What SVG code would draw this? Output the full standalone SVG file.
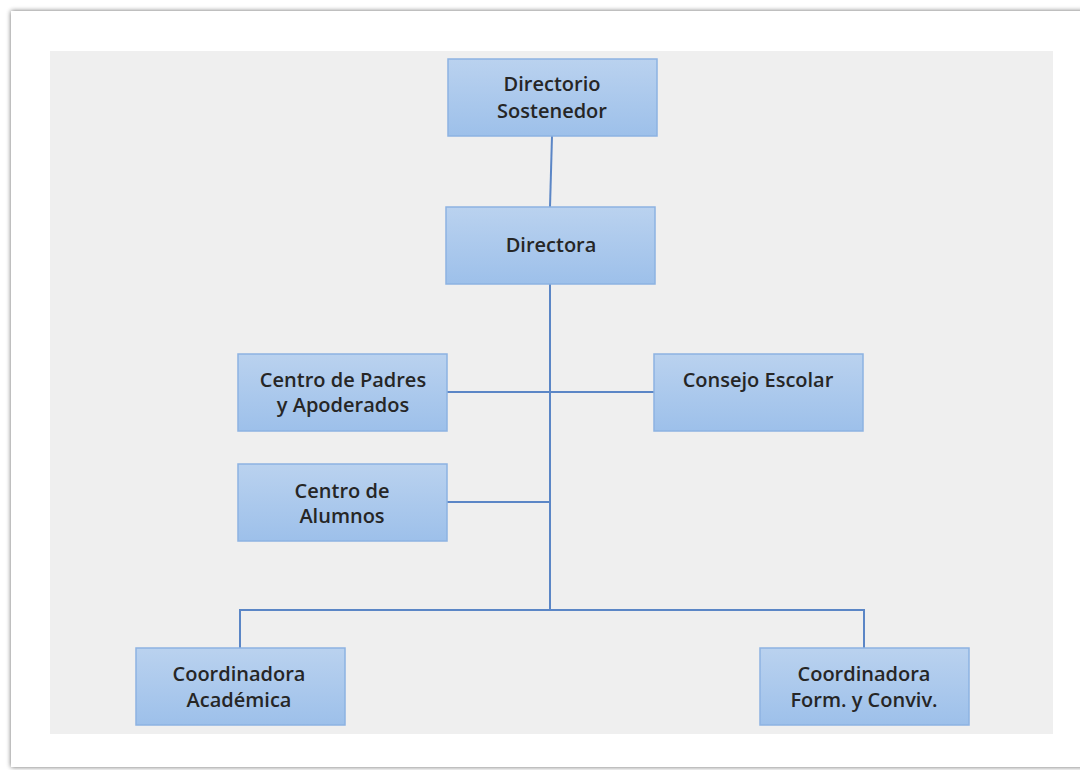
<svg xmlns="http://www.w3.org/2000/svg" width="1080" height="770" viewBox="0 0 1080 770">
<defs>
<linearGradient id="g" x1="0" y1="0" x2="0" y2="1">
<stop offset="0" stop-color="#bad2ef"/>
<stop offset="1" stop-color="#9dc0ea"/>
</linearGradient>
<filter id="sh" x="-5%" y="-5%" width="110%" height="110%">
<feGaussianBlur in="SourceAlpha" stdDeviation="2.5"/>
<feOffset dx="0" dy="0"/>
<feComponentTransfer><feFuncA type="linear" slope="0.6"/></feComponentTransfer>
<feMerge><feMergeNode/><feMergeNode in="SourceGraphic"/></feMerge>
</filter>
</defs>
<style>
.box{fill:url(#g);stroke:#8db3e2;stroke-width:1.5}
.t{font-family:"Open Sans","Liberation Sans",sans-serif;font-size:20px;font-weight:600;fill:#262626;text-anchor:middle}
.c{stroke:#5b86c6;stroke-width:2;fill:none}
</style>
<rect x="0" y="0" width="1080" height="770" fill="#ffffff"/>
<rect x="11" y="11" width="1080" height="756" fill="#ffffff" filter="url(#sh)"/>
<rect x="50" y="51" width="1003" height="683" fill="#efefef"/>
<g id="connectors">
<line class="c" x1="552" y1="136" x2="550" y2="207"/>
<line class="c" x1="550" y1="284" x2="550" y2="611"/>
<line class="c" x1="447" y1="392" x2="654" y2="392"/>
<line class="c" x1="447" y1="502" x2="550" y2="502"/>
<polyline class="c" points="240,648 240,610 864,610 864,648"/>
</g>
<g id="n1"><rect class="box" x="448" y="59" width="209" height="77"/><text class="t" x="552" y="91">Directorio</text><text class="t" x="552" y="118">Sostenedor</text></g>
<g id="n2"><rect class="box" x="446" y="207" width="209" height="77"/><text class="t" x="551" y="252">Directora</text></g>
<g id="n3"><rect class="box" x="238" y="354" width="209" height="77"/><text class="t" x="343" y="387">Centro de Padres</text><text class="t" x="343" y="412">y Apoderados</text></g>
<g id="n4"><rect class="box" x="654" y="354" width="209" height="77"/><text class="t" x="758" y="387">Consejo Escolar</text></g>
<g id="n5"><rect class="box" x="238" y="464" width="209" height="77"/><text class="t" x="342" y="498">Centro de</text><text class="t" x="342" y="523">Alumnos</text></g>
<g id="n6"><rect class="box" x="136" y="648" width="209" height="77"/><text class="t" x="239" y="681">Coordinadora</text><text class="t" x="239" y="707">Académica</text></g>
<g id="n7"><rect class="box" x="760" y="648" width="209" height="77"/><text class="t" x="864" y="681">Coordinadora</text><text class="t" x="864" y="707">Form. y Conviv.</text></g>
</svg>
